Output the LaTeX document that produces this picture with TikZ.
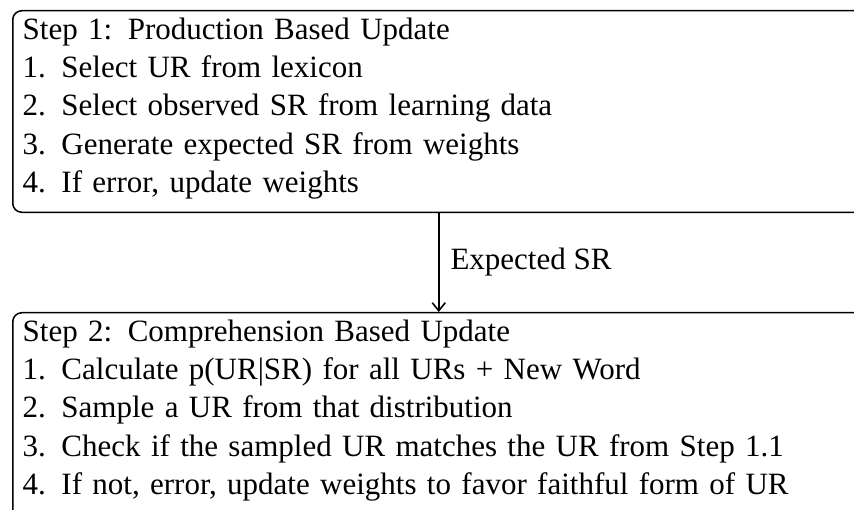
\documentclass[tikz,border=0pt]{standalone}
\usepackage{fontspec}
\setmainfont{Liberation Serif}
\usetikzlibrary{arrows.meta}
\tikzset{
  stepbox/.style={draw, line width=1.5pt, rounded corners=9pt, anchor=north west,
    align=left, text width=832pt, inner xsep=10pt, inner ysep=7pt, text depth=166pt,
    font=\fontsize{31pt}{38.3pt}\selectfont},
  flow/.style={line width=1.5pt, arrows={-Straight Barb[length=8pt,width=13pt,line width=1.6pt]}},
  lbl/.style={font=\fontsize{31pt}{38.3pt}\selectfont, anchor=west, inner sep=11pt}
}
\begin{document}
\begin{tikzpicture}[x=1pt,y=1pt]
\useasboundingbox (0,0) rectangle (854,-510);
\clip (0,0) rectangle (854,-510);
\node[stepbox] (prod) at (12,-10) {Step 1: Production Based Update\\
1. Select UR from lexicon\\
2. Select observed SR from learning data\\
3. Generate expected SR from weights\\
4. If error, update weights};
\node[stepbox, text depth=200pt] (comp) at (12,-312) {Step 2: Comprehension Based Update\\
1. Calculate p(UR|SR) for all URs + New Word\\
2. Sample a UR from that distribution\\
3. Check if the sampled UR matches the UR from Step 1.1\\
4. If not, error, update weights to favor faithful form of UR};
\draw[flow] (prod.south) -- (comp.north) node[lbl, midway] (lab) {Expected SR};
\end{tikzpicture}
\end{document}
